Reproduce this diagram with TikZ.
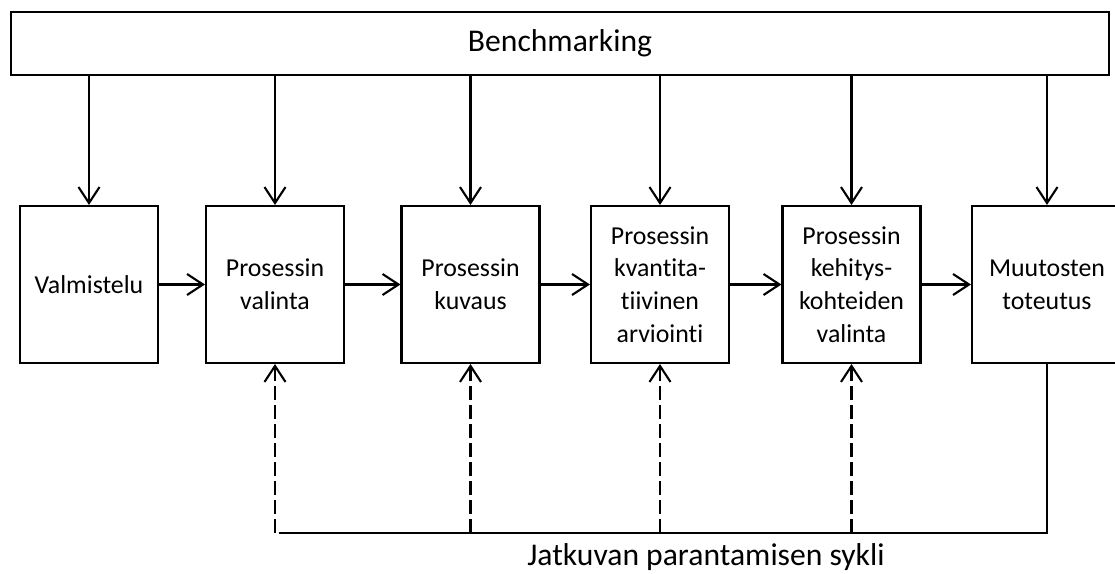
\documentclass[tikz,border=0pt]{standalone}
\usepackage{fontspec}
\setmainfont{Carlito}[Ligatures={NoCommon}]
\usetikzlibrary{positioning, arrows.meta}

\begin{document}
\begin{tikzpicture}[x=0.02cm, y=-0.02cm, line width=1.2pt,
        every node/.style={font=\fontsize{18}{21.6}\selectfont},
        stage/.style={draw, minimum width=2.76cm, minimum height=3.14cm, align=center, inner sep=0pt,
            font=\fontsize{14.7}{18.6}\selectfont},
        flow/.style={-{Straight Barb[length=0.32cm, width=0.42cm]}},
        feedback/.style={flow, dash pattern=on 0.28cm off 0.1cm}]
        \useasboundingbox (0,0) rectangle (1115,574);
        \node[draw, minimum width=21.96cm, minimum height=1.26cm] (bench) at (560,43.5) {Benchmarking};
        \node[stage] (valm) at (89,284.5) {Valmistelu};
        \node[stage] (val) at (275,284.5) {Prosessin\\valinta};
        \node[stage] (kuv) at (470.5,284.5) {Prosessin\\kuvaus};
        \node[stage] (kva) at (660,284.5) {Prosessin\\kvantita-\\tiivinen\\arviointi};
        \node[stage] (keh) at (851.5,284.5) {Prosessin\\kehitys-\\kohteiden\\valinta};
        \node[stage, minimum width=3cm] (muu) at (1047,284.5) {Muutosten\\toteutus};
        \node[anchor=base] (cycle) at (706,565) {Jatkuvan parantamisen sykli};
        \coordinate (loop) at (0,533);
        % benchmarking feeds every stage
        \foreach \s in {valm, val, kuv, kva, keh, muu}
            \draw[flow] (bench.south -| \s.north) -- (\s.north);
        \draw[flow] (valm) -- (val);
        \draw[flow] (val) -- (kuv);
        \draw[flow] (kuv) -- (kva);
        \draw[flow] (kva) -- (keh);
        \draw[flow] (keh) -- (muu);
        % improvement cycle
        \draw (muu.south) |- ([xshift=0.08cm]val.south |- loop);
        \foreach \s in {val, kuv, kva, keh}
            \draw[feedback] (\s.south |- loop) -- (\s.south);
\end{tikzpicture}
\end{document}
